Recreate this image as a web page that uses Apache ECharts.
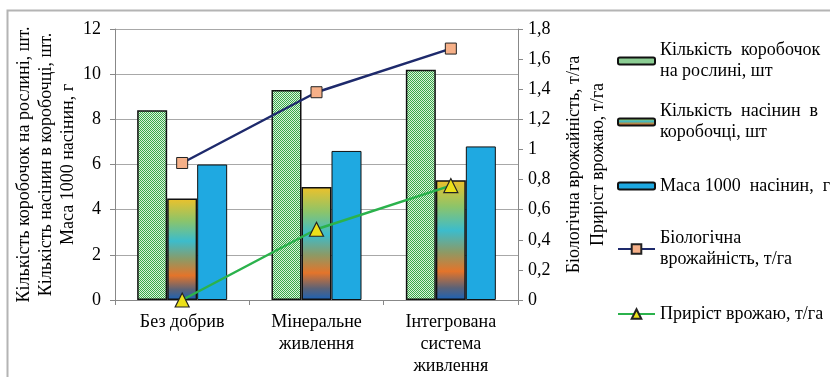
<!DOCTYPE html>
<html><head><meta charset="utf-8">
<script src="https://cdn.jsdelivr.net/npm/echarts@6/dist/echarts.min.js"></script>
<style>html,body{margin:0;padding:0;background:#fff}#c{width:830px;height:377px}</style>
</head><body><div id="c"></div>
<script>
const categories = ['Без добрив', 'Мінеральне\nживлення', 'Інтегрована\nсистема\nживлення'];
const boxesPerPlant = [8.4, 9.3, 10.2];
const seedsPerBox = [4.5, 5.0, 5.3];
const mass1000 = [6.0, 6.6, 6.8];
const bioYield = [0.91, 1.38, 1.67];
const yieldGain = [0, 0.47, 0.76];
const leftTicks = [0, 2, 4, 6, 8, 10, 12];
const rightTicks = ['0', '0,2', '0,4', '0,6', '0,8', '1', '1,2', '1,4', '1,6', '1,8'];

const names = ['Кількість  коробочок\nна рослині, шт', 'Кількість  насінин  в\nкоробочці, шт', 'Маса 1000  насінин,  г', 'Біологічна\nврожайність, т/га', 'Приріст врожаю, т/га'];

const pc = document.createElement('canvas');
pc.width = 4; pc.height = 4;
const g = pc.getContext('2d');
g.fillStyle = '#dcf2dc'; g.fillRect(0, 0, 4, 4);
g.fillStyle = '#3aa84a';
g.fillRect(0, 0, 1, 1); g.fillRect(2, 0, 1, 1); g.fillRect(1, 1, 1, 1); g.fillRect(3, 1, 1, 1);
g.fillRect(0, 2, 1, 1); g.fillRect(2, 2, 1, 1); g.fillRect(1, 3, 1, 1); g.fillRect(3, 3, 1, 1);

const FONT = "'Liberation Serif', 'Times New Roman', serif";
const FS = 18;
const grad = new echarts.graphic.LinearGradient(0, 0, 0, 1, [
  {offset: 0, color: '#eec12a'},
  {offset: 0.22, color: '#8cc46a'},
  {offset: 0.42, color: '#3cbccc'},
  {offset: 0.6, color: '#8c9a66'},
  {offset: 0.76, color: '#e4742a'},
  {offset: 0.9, color: '#5a6278'},
  {offset: 1, color: '#1a62b8'}
]);

function leg(i, top, twoLine, ih) {
  return {
    data: [names[i]], left: 617, top: top, padding: 0, itemWidth: 37, itemHeight: ih,
    itemGap: 0, selectedMode: false,
    textStyle: {fontFamily: FONT, fontSize: FS, color: '#000', lineHeight: 21,
      padding: twoLine ? [21, 0, 0, 0] : 0}
  };
}

const chart = echarts.init(document.getElementById('c'));
chart.setOption({
  animation: false,
  textStyle: {fontFamily: FONT},
  graphic: [{type: 'rect', shape: {x: 7.5, y: 10.5, width: 840, height: 400},
    style: {fill: 'none', stroke: '#b4b4b4', lineWidth: 2}}],
  legend: [leg(0, 61 - 31.5, true, 7), leg(1, 122 - 31.5, true, 7), leg(2, 186 - 10.5, false, 7),
           leg(3, 249 - 31.5, true, 12), leg(4, 314 - 10.5, false, 12)],
  grid: {left: 115, right: 312, top: 29, bottom: 75},
  xAxis: {
    type: 'category', data: categories,
    axisLine: {lineStyle: {color: '#888'}},
    axisTick: {show: true, length: 5, lineStyle: {color: '#888'}},
    axisLabel: {fontFamily: FONT, fontSize: FS, color: '#000', lineHeight: 22, margin: 11}
  },
  yAxis: [{
    type: 'value', min: 0, max: 12, interval: 2,
    name: 'Кількість коробочок на рослині, шт.\nКількість насінин в коробочці, шт.\nМаса 1000 насінин, г',
    nameLocation: 'middle', nameRotate: 90, nameGap: 29,
    nameTextStyle: {fontFamily: FONT, fontSize: FS, color: '#000', lineHeight: 22},
    axisLine: {show: true, lineStyle: {color: '#888'}},
    axisTick: {show: true, length: 5, lineStyle: {color: '#888'}},
    axisLabel: {fontFamily: FONT, fontSize: FS, color: '#000', margin: 14,
      formatter: v => leftTicks.includes(v) ? String(v) : ''},
    splitLine: {lineStyle: {color: '#a8a8a8'}}
  }, {
    type: 'value', min: 0, max: 1.8, interval: 0.2, position: 'right',
    name: 'Біологічна врожайність, т/га\nПриріст врожаю, т/га',
    nameLocation: 'middle', nameRotate: 90, nameGap: 44,
    nameTextStyle: {fontFamily: FONT, fontSize: FS, color: '#000', lineHeight: 24},
    axisLine: {show: true, lineStyle: {color: '#888'}},
    axisTick: {show: true, length: 5, lineStyle: {color: '#888'}},
    axisLabel: {fontFamily: FONT, fontSize: FS, color: '#000', margin: 10,
      formatter: v => rightTicks[Math.round(v / 0.2)]},
    splitLine: {show: false}
  }],
  series: [
    {name: names[0], type: 'bar', data: boxesPerPlant, barWidth: 30, barGap: '0%',
      itemStyle: {color: {image: pc, repeat: 'repeat'}, borderColor: '#111', borderWidth: 1.5}},
    {name: names[1], type: 'bar', data: seedsPerBox, barWidth: 30, barGap: '0%',
      itemStyle: {color: grad, borderColor: '#111', borderWidth: 1.5}},
    {name: names[2], type: 'bar', data: mass1000, barWidth: 30, barGap: '0%',
      itemStyle: {color: '#1fa9e1', borderColor: '#111', borderWidth: 1}},
    {name: names[3], type: 'line', yAxisIndex: 1, data: bioYield, symbol: 'rect', symbolSize: 11,
      lineStyle: {color: '#1e2a6c', width: 2.5},
      itemStyle: {color: '#f6b088', borderColor: '#222', borderWidth: 1}},
    {name: names[4], type: 'line', yAxisIndex: 1, data: yieldGain, symbol: 'triangle', symbolSize: 14,
      lineStyle: {color: '#2bb24c', width: 2.5},
      itemStyle: {color: '#ece01a', borderColor: '#222', borderWidth: 1.2}}
  ]
});
</script></body></html>
